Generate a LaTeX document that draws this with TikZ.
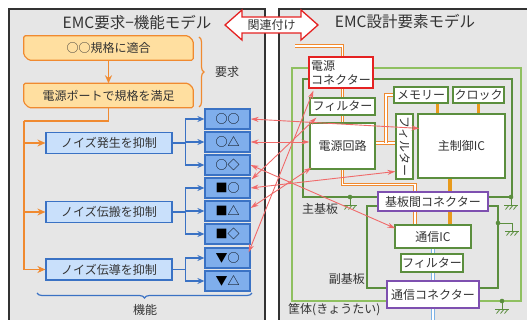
\documentclass[tikz,border=0pt]{standalone}
\usepackage{fontspec}
\setmainfont{Noto Sans CJK JP}
\usetikzlibrary{arrows.meta,decorations.pathreplacing,calc}
\pgfdeclarelayer{back}
\pgfdeclarelayer{bg}
\pgfsetlayers{back,bg,main}
\definecolor{panel}{HTML}{E6E6E6}
\definecolor{panelline}{HTML}{333333}
\definecolor{orline}{HTML}{F08A30}
\definecolor{orfill}{HTML}{FFDFA0}
\definecolor{orthick}{HTML}{E89A1C}
\definecolor{bluline}{HTML}{3A72C4}
\definecolor{blufill}{HTML}{C9E0FB}
\definecolor{bludark}{HTML}{7FAEEC}
\definecolor{relred}{HTML}{F06A6A}
\definecolor{grn}{HTML}{5B8E3E}
\definecolor{lgrn}{HTML}{8FC060}
\definecolor{purp}{HTML}{7E50B0}
\definecolor{redb}{HTML}{E52222}
\definecolor{cable}{HTML}{7DB3E6}
\definecolor{txt}{HTML}{333333}
\begin{document}
\begin{tikzpicture}[x=1pt,y=-1pt,
  font=\fontsize{12}{14}\selectfont, text=txt,
  reqtext/.style={minimum width=169pt, minimum height=24pt, inner sep=0pt},
  funcbox/.style={draw=bluline, fill=blufill, line width=1.2pt, minimum width=126pt, minimum height=21pt, inner sep=0pt},
  subbox/.style={draw=bluline, fill=bludark, line width=1.2pt, minimum width=45pt, minimum height=20pt, inner sep=0pt, text=black},
  comp/.style={draw=grn, fill=white, line width=1.2pt, inner sep=0pt},
  conn/.style={draw=purp, fill=white, line width=1.2pt, inner sep=0pt},
  ortip/.style={-{Stealth[length=8pt,width=7pt]}},
  orarrow/.style={draw=orline, line width=1.4pt, ortip},
  blarrow/.style={draw=bluline, line width=1.2pt, -{Stealth[length=7pt,width=6pt]}},
  relarrow/.style={draw=relred, line width=0.9pt, {Stealth[length=8pt,width=5pt]}-{Stealth[length=8pt,width=5pt]}},
  power/.style={draw=orline, double=white, line width=1.1pt, double distance=1.1pt},
  bus/.style={draw=orthick, line width=#1},
  commline/.style={draw=cable, double=white, line width=1.3pt, double distance=1.3pt},
  gndsym/.pic={\draw[grn, line width=0.9pt] (-7,0)--(7,0);
     \foreach \i in {-4,0,4} \draw[grn, line width=0.8pt] (\i+1.8,0.5)--(\i-1.5,4.5);},
  title/.style={font=\fontsize{15.5}{17}\selectfont}
]
\useasboundingbox (0,0) rectangle (527,320);

% ---------- panels ----------
\begin{pgfonlayer}{back}
\fill[white] (0,0) rectangle (527,320);
\path[draw=panelline, fill=panel, line width=1.2pt] (9,9) rectangle (265,335);
\path[draw=panelline, fill=panel, line width=1.2pt] (279,9) rectangle (545,335);
\end{pgfonlayer}

\node[title] (tl) at (137,23) {EMC要求−機能モデル};
\node[title] (tr) at (405,22) {EMC設計要素モデル};

% double arrow
\path[draw=redb, fill=white, line width=1.3pt, line join=miter]
  (225,25) -- (242,10) -- (242,17) -- (301,17) -- (301,10) -- (318,25)
  -- (301,40) -- (301,33) -- (242,33) -- (242,40) -- cycle;
\node (rel) at (271.5,25) {関連付け};

% ---------- left side ----------
\node[reqtext] (r1) at (108.5,48) {○○規格に適合};
\node[reqtext] (r2) at (108.5,95.5) {電源ポートで規格を満足};
\begin{pgfonlayer}{bg}
\foreach \n in {r1,r2}
  \path[fill=orfill, draw=orline, line width=1.2pt, rounded corners=1.5pt]
    (\n.north west) -- ([xshift=-5pt]\n.north east) -- ([yshift=-5pt]\n.north east)
    -- (\n.south east) -- ([xshift=5pt]\n.south west) -- ([yshift=5pt]\n.south west) -- cycle;
\end{pgfonlayer}
\draw[orarrow] (r1) -- (r2);

\draw[decorate, decoration={brace, amplitude=5pt}, draw=orline, line width=1.2pt]
  (199,37) -- (199,107);
\node (req) at (227,72) {要求};

\node[funcbox] (n1) at (109,143) {ノイズ発生を抑制};
\node[funcbox] (n2) at (109,212) {ノイズ伝搬を抑制};
\node[funcbox] (n3) at (109,269.5) {ノイズ伝導を抑制};

\coordinate (oc) at (24,121);
\draw[draw=orline, line width=1.4pt] (r2.south) |- (oc);
\draw[orarrow] (oc) |- (n1.west);
\draw[orarrow] (oc) |- (n2.west);
\draw[orarrow] (oc) |- (n3.west);

\node[subbox] (f1) at (227.5,119) {○○};
\node[subbox] (f2) at (227.5,142) {○△};
\node[subbox] (f3) at (227.5,165) {○◇};
\node[subbox] (f4) at (227.5,188) {■○};
\node[subbox] (f5) at (227.5,211) {■△};
\node[subbox] (f6) at (227.5,234) {■◇};
\node[subbox] (f7) at (227.5,258) {▼○};
\node[subbox] (f8) at (227.5,281) {▼△};

\foreach \s/\t in {n1/f1,n1/f2,n1/f3,n2/f4,n2/f5,n2/f6,n3/f7,n3/f8}
  \draw[blarrow] (\s.east) -- ++(13,0) |- (\t.west);

\draw[decorate, decoration={brace, amplitude=5pt}, draw=bluline, line width=1.2pt]
  (252,293) -- (37,293);
\node (func) at (145,310) {機能};

% ---------- right side ----------
\begin{pgfonlayer}{back}
\draw[lgrn, line width=1.6pt] (292,68) rectangle (521,301);
\draw[grn, line width=1.1pt] (303,79) rectangle (512,197);
\draw[grn, line width=1.1pt] (367,206) rectangle (498,288);
\end{pgfonlayer}

\node[draw=redb, fill=white, line width=1.2pt, minimum width=64pt, minimum height=31pt, inner sep=0pt, align=left, font=\fontsize{12}{14}\selectfont] (pc) at (341,72.5) {電源\\コネクター};
\node[comp, minimum width=65pt, minimum height=17pt] (flt1) at (342.5,106.5) {フィルター};
\node[comp, minimum width=54pt, minimum height=16pt] (mem) at (421,95) {メモリー};
\node[comp, minimum width=51pt, minimum height=16pt] (clk) at (478.5,95) {クロック};
\node[comp, minimum width=65pt, minimum height=46pt] (psu) at (342.5,146) {電源回路};
\node[comp, minimum width=17pt, minimum height=65pt] (flt2) at (404.5,146.5) {};
\node[rotate=-90, inner sep=0pt] (flt2t) at (flt2.center) {フィルター};
\node[comp, minimum width=87pt, minimum height=64pt] (mcu) at (461.5,146) {主制御IC};
\node[conn, minimum width=110pt, minimum height=19pt] (bc) at (433,201.5) {基板間コネクター};
\node[comp, minimum width=76pt, minimum height=23pt] (cic) at (433,236.5) {通信IC};
\node[comp, minimum width=62pt, minimum height=18pt] (flt3) at (432,263) {フィルター};
\node[conn, minimum width=92pt, minimum height=27pt] (cc) at (433,294.5) {通信コネクター};

\node[anchor=west, inner sep=0pt] (lmain) at (302,209) {主基板};
\node[anchor=east, inner sep=0pt] (lsub) at (365,279) {副基板};
\node[anchor=west, inner sep=0pt] (lcase) at (288,310) {筐体(きょうたい)};

% cables
\begin{pgfonlayer}{bg}
\coordinate (pin) at (295,46);
\draw[power] (pin) -- (pin -| flt1.north) -- (flt1.north);
\draw[power] (flt1.south) -- (psu.north);
\draw[power] ([yshift=3pt]psu.east) -- ([yshift=3pt]psu.east -| flt2.west);
\draw[power] (386,143) -- (386,95) -- (mem.west);
\draw[power] (psu.south) -- ++(0,15) -| ([xshift=-18pt]bc.north);
\draw[power] ([xshift=-18pt]bc.south) -- ([xshift=-18pt]bc.south |- cic.north);
\draw[bus=3pt] ([xshift=16pt]mem.south) -- ([xshift=16pt]mem.south |- mcu.north);
\draw[bus=3pt] (clk.south) -- (clk.south |- mcu.north);
\draw[bus=4.5pt] ([xshift=17pt]bc.north |- mcu.south) -- ([xshift=17pt]bc.north);
\draw[bus=4.5pt] ([xshift=17pt]bc.south) -- ([xshift=17pt]bc.south |- cic.north);
\draw[commline] (cic.south) -- ++(0,90);
\end{pgfonlayer}

% grounds
\foreach \x/\y in {350/197, 511/197, 502/301} {
  \fill[grn] (\x,\y) circle (2.3pt);
  \draw[grn, line width=0.9pt] (\x,\y) -- (\x,\y+8);
  \pic at (\x,\y+8) {gndsym};
}
\fill[grn] (498,223) circle (2.3pt);
\draw[grn, line width=0.9pt] (498,223) -| (512,231);
\pic at (512,231) {gndsym};

% relation arrows
\draw[relarrow] (f1.east) -- ($(mcu.north west)+(2,15)$);
\draw[relarrow] (f2.east) -- ($(psu.west)+(0,-4)$);
\draw[relarrow] (f3.east) -- ($(cic.north west)+(1,4)$);
\draw[relarrow] ($(f4.north east)+(1,2)$) -- ($(flt1.south west)+(7,2)$);
\draw[relarrow] (f4.east) -- ($(flt2.west)+(0,25)$);
\draw[relarrow] ($(f5.east)+(0,-3)$) -- ($(psu.south west)+(2,-2)$);
\draw[relarrow] ($(f7.north east)+(-2,5)$) -- ($(pc.south west)+(5,2)$);
\end{tikzpicture}
\end{document}
